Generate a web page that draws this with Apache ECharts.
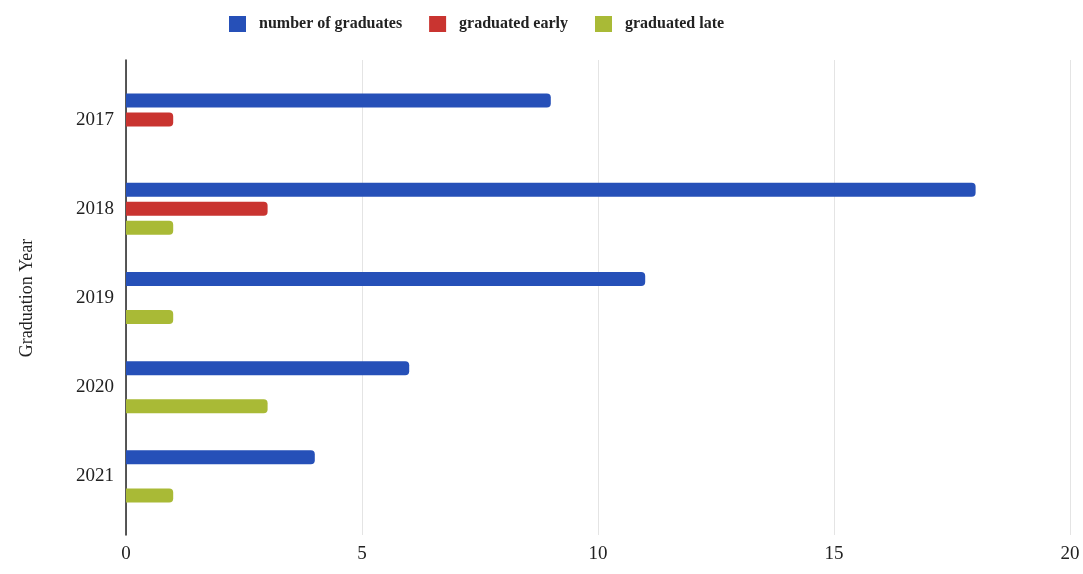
<!DOCTYPE html>
<html lang="en">
<head>
  <meta charset="UTF-8">
  <title>Graduates</title>
  <script src="https://cdn.jsdelivr.net/npm/echarts@6/dist/echarts.min.js"></script>
  <style>
    html, body { margin: 0; padding: 0; background: #fff; }
    #main { width: 1083px; height: 574px; }
  </style>
</head>
<body>
<div id="main"></div>
<script>
  // data
  var years = ['2017', '2018', '2019', '2020', '2021'];
  var graduates = [9, 18, 11, 6, 4];
  var early = [1, 3, 0, 0, 0];
  var late = [0, 1, 1, 3, 1];
  var xTicks = [0, 5, 10, 15, 20];

  var font = '"Liberation Serif", "DejaVu Serif", serif';

  function serie(name, data, color) {
    return {
      name: name,
      type: 'bar',
      xAxisIndex: 1,
      yAxisIndex: 1,
      data: data,
      barWidth: 14,
      barGap: '36%',
      itemStyle: { color: color, borderRadius: [0, 4, 4, 0] }
    };
  }

  var chart = echarts.init(document.getElementById('main'));
  chart.setOption({
    animation: false,
    textStyle: { fontFamily: font },
    legend: {
      left: 229,
      top: 16,
      padding: 0,
      itemWidth: 17,
      itemHeight: 16,
      itemGap: 27,
      icon: 'rect',
      textStyle: { fontFamily: font, fontSize: 16, color: '#222', fontWeight: 'bold', padding: [0, 0, 0, 8] },
      data: ['number of graduates', 'graduated early', 'graduated late']
    },
    // grid 0 carries the axis line and gridlines (taller), grid 1 the bars
    grid: [
      { left: 126, right: 13, top: 60, bottom: 39 },
      { left: 126, right: 13, top: 75, bottom: 53 }
    ],
    xAxis: [{
      gridIndex: 0,
      type: 'value',
      min: xTicks[0],
      max: xTicks[xTicks.length - 1],
      interval: 5,
      axisLine: { show: false },
      axisTick: { show: false },
      axisLabel: { fontFamily: font, fontSize: 19, color: '#222', margin: 10 },
      splitLine: { lineStyle: { color: '#e4e4e4', width: 1 } }
    }, {
      gridIndex: 1,
      type: 'value',
      min: xTicks[0],
      max: xTicks[xTicks.length - 1],
      interval: 5,
      show: false
    }],
    yAxis: [{
      gridIndex: 0,
      type: 'value',
      axisLine: { show: true, lineStyle: { color: '#222', width: 1.5 } },
      axisTick: { show: false },
      axisLabel: { show: false },
      splitLine: { show: false }
    }, {
      gridIndex: 1,
      type: 'category',
      inverse: true,
      data: years,
      name: 'Graduation Year',
      nameLocation: 'middle',
      nameGap: 90,
      nameRotate: 90,
      nameTextStyle: { fontFamily: font, fontSize: 18, color: '#222' },
      axisLine: { show: false },
      axisTick: { show: false },
      axisLabel: { fontFamily: font, fontSize: 19, color: '#222', margin: 12 }
    }],
    series: [
      serie('number of graduates', graduates, '#2650b8'),
      serie('graduated early', early, '#c93430'),
      serie('graduated late', late, '#a9ba36')
    ]
  });
</script>
</body>
</html>
